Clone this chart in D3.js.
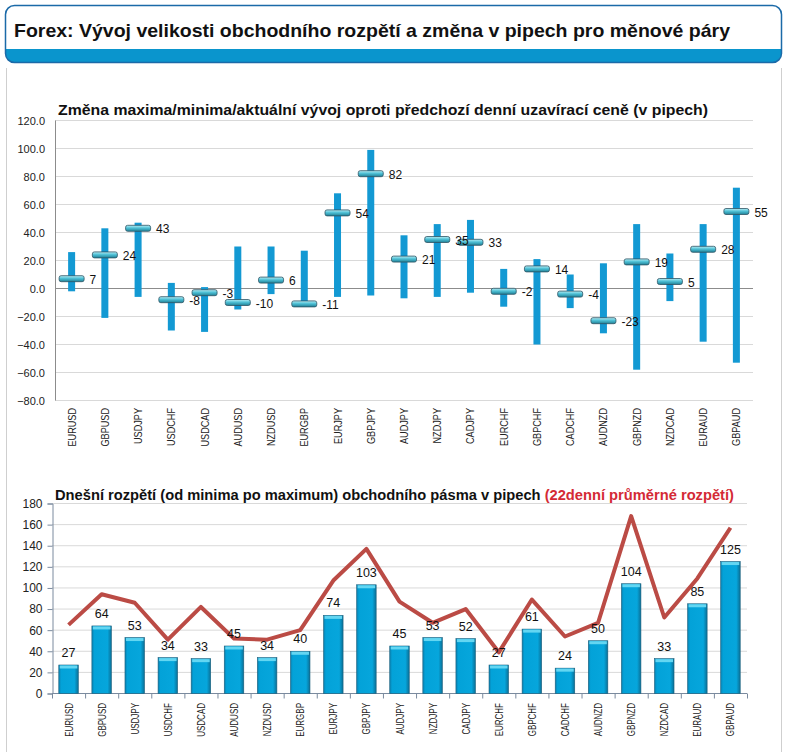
<!DOCTYPE html>
<html><head><meta charset="utf-8">
<script src="https://cdn.jsdelivr.net/npm/d3@7"></script>
<style>
html,body{margin:0;padding:0;background:#fff;}
svg{display:block;font-family:"Liberation Sans",Arial,sans-serif;}
</style></head>
<body>
<svg id="c" width="789" height="752"></svg>
<script>
// ---------- DATA ----------
const pairs = ["EURUSD","GBPUSD","USDJPY","USDCHF","USDCAD","AUDUSD","NZDUSD","EURGBP","EURJPY","GBPJPY","AUDJPY","NZDJPY","CADJPY","EURCHF","GBPCHF","CADCHF","AUDNZD","GBPNZD","NZDCAD","EURAUD","GBPAUD"];
const changeMin = [-2,-21,-6,-30,-31,-15,-4,-13,-6,-5,-7,-6,-3,-13,-40,-14,-32,-58,-9,-38,-53];
const changeMax = [26,43,47,4,1,30,30,27,68,99,38,46,49,14,21,10,18,46,25,46,72];
const changeNow = [7,24,43,-8,-3,-10,6,-11,54,82,21,35,33,-2,14,-4,-23,19,5,28,55];
const topTicks = [-80,-60,-40,-20,0,20,40,60,80,100,120];

const rangeToday = [27,64,53,34,33,45,34,40,74,103,45,53,52,27,61,24,50,104,33,85,125];
const avg22 = [65,94,86,51,82,52,51,60,107,137,87,67,80,39,89,54,67,168,72,109,157];
const bottomTicks = [0,20,40,60,80,100,120,140,160,180];

const mainTitle = "Forex: Vývoj velikosti obchodního rozpětí a změna v pipech pro měnové páry";
const topTitle = "Změna maxima/minima/aktuální vývoj oproti předchozí denní uzavírací ceně (v pipech)";
const bottomTitleA = "Dnešní rozpětí (od minima po maximum) obchodního pásma v pipech ";
const bottomTitleB = "(22denní průměrné rozpětí)";

// ---------- SETUP ----------
const svg = d3.select("#c");
const defs = svg.append("defs");

// header
defs.append("clipPath").attr("id","hdrclip").append("rect")
  .attr("x",5.5).attr("y",5.5).attr("width",776).attr("height",57).attr("rx",9);
svg.append("rect").attr("x",5.5).attr("y",5.5).attr("width",776).attr("height",57).attr("rx",9)
  .attr("fill","#fff");
svg.append("rect").attr("x",0).attr("y",49).attr("width",789).attr("height",20)
  .attr("fill","#0a95cd").attr("clip-path","url(#hdrclip)");
svg.append("rect").attr("x",5.5).attr("y",5.5).attr("width",776).attr("height",57).attr("rx",9)
  .attr("fill","none").attr("stroke","#1b6aa8").attr("stroke-width",1.5);
svg.append("text").attr("x",14).attr("y",37).attr("font-size",19).attr("font-weight","bold")
  .attr("fill","#111").attr("textLength",716).attr("lengthAdjust","spacingAndGlyphs").text(mainTitle);

// panel borders
svg.append("line").attr("x1",6.5).attr("x2",6.5).attr("y1",68).attr("y2",752).attr("stroke","#cfcfcf");
svg.append("line").attr("x1",781.5).attr("x2",781.5).attr("y1",68).attr("y2",752).attr("stroke","#cfcfcf");

function condense(sel, f){
  sel.each(function(){
    const w = this.getComputedTextLength();
    d3.select(this).attr("textLength", w*f).attr("lengthAdjust","spacingAndGlyphs");
  });
}

// ---------- TOP CHART ----------
const xT = d3.scaleBand().domain(pairs).range([55,753]);
const yT = d3.scaleLinear().domain([-80,120]).range([400.5,120.5]);
const gT = svg.append("g");

gT.selectAll(".gridT").data(topTicks).join("line")
  .attr("x1",55).attr("x2",753).attr("y1",d=>yT(d)).attr("y2",d=>yT(d))
  .attr("stroke",d=>d===0?"#8c8c8c":"#d9d9d9");
gT.append("line").attr("x1",55.5).attr("x2",55.5).attr("y1",yT(120)).attr("y2",yT(-80)).attr("stroke","#8c8c8c");

const yAxT = d3.axisLeft(yT).tickValues(topTicks).tickFormat(d3.format(".1f")).tickSize(0).tickPadding(10);
gT.append("g").attr("transform","translate(55,0)").call(yAxT)
  .call(g=>g.select(".domain").remove())
  .call(g=>g.selectAll("text").attr("font-size",11).attr("fill","#222").attr("font-family","Liberation Sans,Arial,sans-serif"));

const xAxT = d3.axisBottom(xT).tickSize(0).tickPadding(0);
gT.append("g").attr("transform","translate(0,408)").call(xAxT)
  .call(g=>g.select(".domain").remove())
  .call(g=>g.selectAll("text").attr("font-size",11).attr("fill","#222")
    .attr("font-family","Liberation Sans,Arial,sans-serif")
    .attr("text-anchor","end").attr("dy",0).attr("y",0).attr("x",0)
    .attr("transform","translate(4,0) rotate(-90)"))
  .call(g=>condense(g.selectAll("text"),0.83));

gT.append("text").attr("x",58).attr("y",115).attr("font-size",15).attr("font-weight","bold")
  .attr("fill","#111").attr("textLength",650).attr("lengthAdjust","spacingAndGlyphs").text(topTitle);

// range bars
gT.selectAll(".rng").data(pairs).join("rect")
  .attr("x",d=>xT(d)+xT.bandwidth()/2-3.5).attr("width",7)
  .attr("y",(d,i)=>yT(changeMax[i])).attr("height",(d,i)=>yT(changeMin[i])-yT(changeMax[i]))
  .attr("fill","#1399d3");

// marker gradient
const mg = defs.append("linearGradient").attr("id","mk").attr("x1",0).attr("y1",0).attr("x2",0).attr("y2",1);
mg.append("stop").attr("offset","0%").attr("stop-color","#b9eef5");
mg.append("stop").attr("offset","45%").attr("stop-color","#4fc1d6");
mg.append("stop").attr("offset","100%").attr("stop-color","#1f7f95");

gT.selectAll(".mk").data(pairs).join("rect")
  .attr("x",d=>xT(d)+xT.bandwidth()/2-12.5).attr("width",25)
  .attr("y",(d,i)=>yT(changeNow[i])-3).attr("height",6).attr("rx",2)
  .attr("fill","url(#mk)").attr("stroke","#2d5464").attr("stroke-width",0.8);

gT.selectAll(".lbl").data(pairs).join("text")
  .attr("x",d=>xT(d)+xT.bandwidth()/2+18).attr("y",(d,i)=>yT(changeNow[i])+5)
  .attr("font-size",12).attr("fill","#111").text((d,i)=>changeNow[i]);

// ---------- BOTTOM CHART ----------
const xB = d3.scaleBand().domain(pairs).range([52,747]).paddingInner(0.41).paddingOuter(0.205);
const yB = d3.scaleLinear().domain([0,180]).range([693.5,503.5]);
const gB = svg.append("g");

gB.selectAll(".gridB").data(bottomTicks).join("line")
  .attr("x1",52).attr("x2",747).attr("y1",d=>yB(d)).attr("y2",d=>yB(d))
  .attr("stroke","#d9d9d9");

const yAxB = d3.axisLeft(yB).tickValues(bottomTicks).tickSize(5).tickPadding(5);
gB.append("g").attr("transform","translate(52.5,0)").call(yAxB)
  .call(g=>g.select(".domain").attr("stroke","#7a8a9e"))
  .call(g=>g.selectAll(".tick line").attr("stroke","#7a8a9e"))
  .call(g=>g.selectAll("text").attr("font-size",12).attr("fill","#222").attr("font-family","Liberation Sans,Arial,sans-serif"));

// x axis line + ticks between categories
gB.append("line").attr("x1",52).attr("x2",747).attr("y1",yB(0)).attr("y2",yB(0)).attr("stroke","#7a8a9e");
const step = xB.step();
gB.selectAll(".xtk").data(d3.range(pairs.length+1)).join("line")
  .attr("x1",i=>52+i*step+0.5).attr("x2",i=>52+i*step+0.5)
  .attr("y1",yB(0)).attr("y2",yB(0)+5).attr("stroke","#7a8a9e");

const xAxB = d3.axisBottom(xB).tickSize(0).tickPadding(0);
gB.append("g").attr("transform","translate(0,703)").call(xAxB)
  .call(g=>g.select(".domain").remove())
  .call(g=>g.selectAll("text").attr("font-size",10).attr("fill","#222")
    .attr("font-family","Liberation Sans,Arial,sans-serif")
    .attr("text-anchor","end").attr("dy",0).attr("y",0).attr("x",0)
    .attr("transform","translate(4,0) rotate(-90)"))
  .call(g=>condense(g.selectAll("text"),0.8));

const tB = gB.append("text").attr("x",55).attr("y",500).attr("font-size",14.7).attr("font-weight","bold");
tB.append("tspan").attr("fill","#111").text(bottomTitleA);
tB.append("tspan").attr("fill","#d42a35").text(bottomTitleB);

// bar gradient
const bg = defs.append("linearGradient").attr("id","bar").attr("x1",0).attr("y1",0).attr("x2",1).attr("y2",0);
bg.append("stop").attr("offset","0%").attr("stop-color","#0b7fae");
bg.append("stop").attr("offset","12%").attr("stop-color","#03a2d8");
bg.append("stop").attr("offset","80%").attr("stop-color","#06a6dc");
bg.append("stop").attr("offset","100%").attr("stop-color","#0a6f96");

gB.selectAll(".bar").data(pairs).join("rect")
  .attr("x",d=>xB(d)).attr("width",xB.bandwidth())
  .attr("y",(d,i)=>yB(rangeToday[i])).attr("height",(d,i)=>yB(0)-yB(rangeToday[i]))
  .attr("fill","url(#bar)").attr("stroke","#1b5f7c").attr("stroke-width",0.6);
gB.selectAll(".cap").data(pairs).join("rect")
  .attr("x",d=>xB(d)+1).attr("width",xB.bandwidth()-2)
  .attr("y",(d,i)=>yB(rangeToday[i])+0.5).attr("height",3)
  .attr("fill","#63d6f2");

// line
const line = d3.line().x((d,i)=>xB(pairs[i])+xB.bandwidth()/2).y(d=>yB(d));
gB.append("path").datum(avg22).attr("d",line).attr("fill","none")
  .attr("stroke","#bb4b45").attr("stroke-width",4).attr("stroke-linejoin","round");

gB.selectAll(".blbl").data(pairs).join("text")
  .attr("x",d=>xB(d)+xB.bandwidth()/2).attr("y",(d,i)=>yB(rangeToday[i])-8)
  .attr("text-anchor","middle").attr("font-size",12.5).attr("fill","#111").text((d,i)=>rangeToday[i]);
</script>
</body></html>
